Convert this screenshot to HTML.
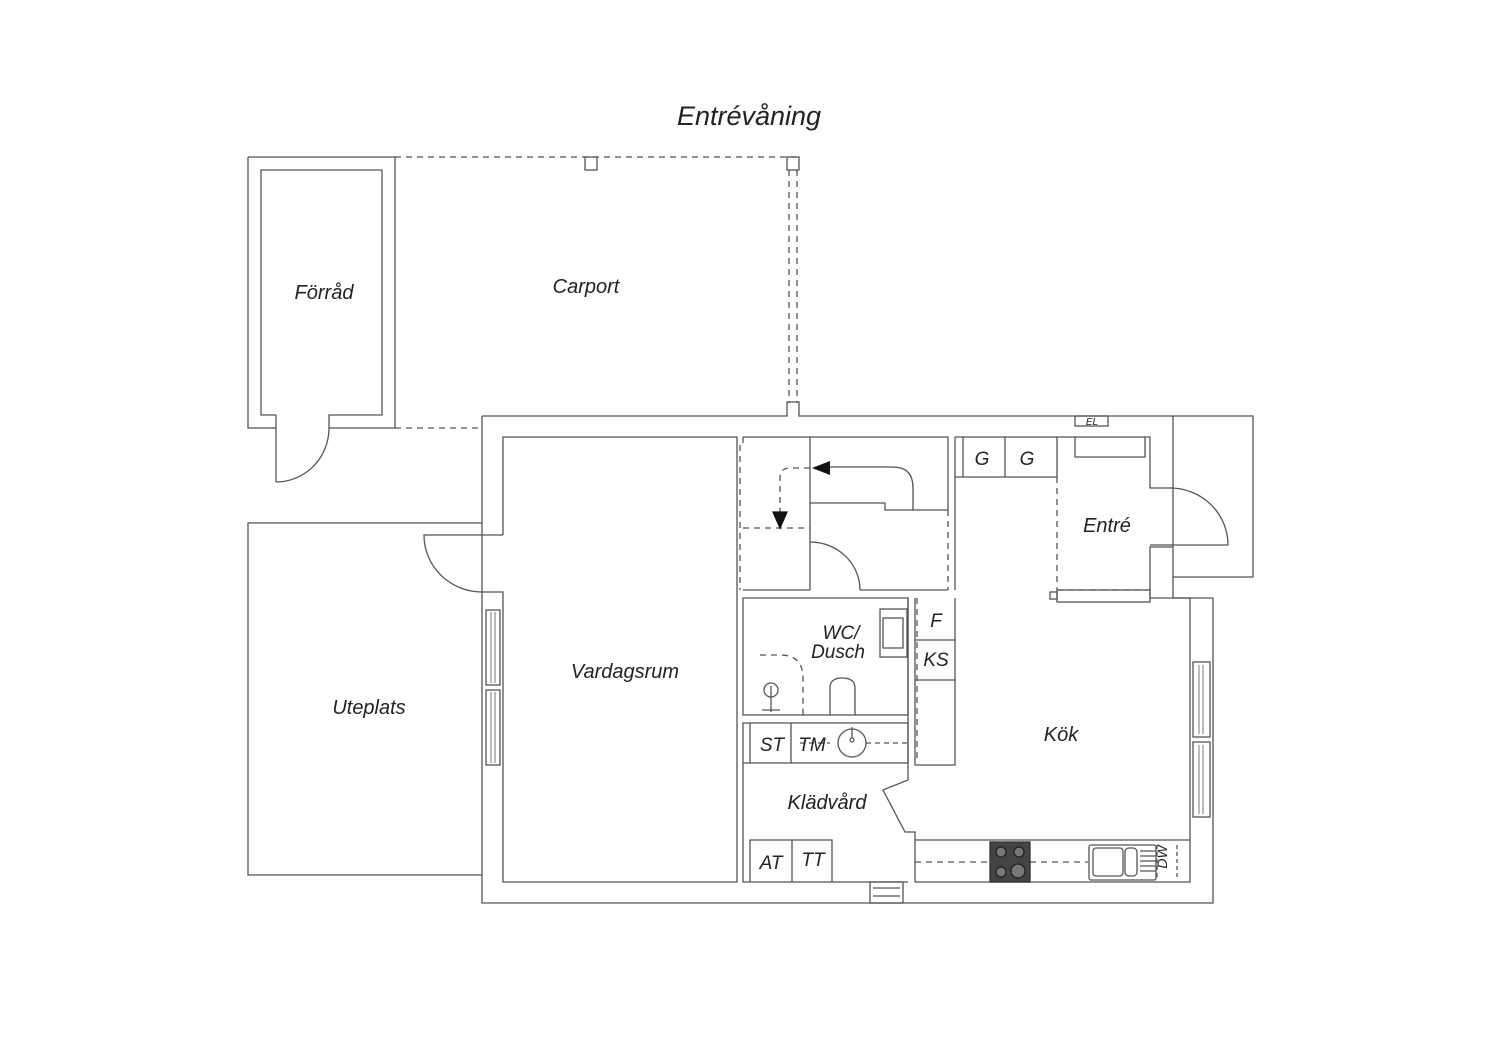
<!DOCTYPE html>
<html><head><meta charset="utf-8"><style>
html,body{margin:0;padding:0;background:#fff;}
svg{display:block}
text{font-family:"Liberation Sans",sans-serif;font-style:italic;fill:#222;}
</style></head><body>
<svg width="1500" height="1060" viewBox="0 0 1500 1060" xmlns="http://www.w3.org/2000/svg">
<g fill="none" stroke="#555" stroke-width="1.3">
<!-- Forrad -->
<path d="M248,157 H395 V428 H329 M276,428 H248 V157"/>
<path d="M276,415 H261 V170 H382 V415 H329 V428"/>
<path d="M276,415 V482"/>
<path d="M276,482 A53,54 0 0 0 329,428"/>
<!-- Carport dashed -->
<g stroke-dasharray="6,5">
<path d="M395,157 H799"/>
<path d="M395,428 H482"/>
<path d="M789,170 V403 M797,170 V403"/>
</g>
<rect x="585" y="157" width="12" height="13"/>
<rect x="787" y="157" width="12" height="13"/>
<!-- Uteplats -->
<path d="M482,523 H248 V875 H482"/>
<!-- House outer -->
<path d="M482,416 H787 V402 H799 V416 H1253 V577 H1173 V416"/>
<path d="M1173,577 V598 H1213 V903 H482 V416"/>
<!-- Vardagsrum inner -->
<path d="M503,535 V437 H737 V882 H503 V592 H482"/>
<path d="M482,535 H503"/>
<path d="M482,535 H424 A58,57 0 0 0 482,592"/>
<!-- windows left -->
<rect x="486" y="610" width="14" height="75"/>
<rect x="486" y="690" width="14" height="75"/>
<path d="M491,612 V683 M495,612 V683 M491,692 V763 M495,692 V763" stroke-width="0.8"/>
<!-- stair / hall block -->
<path d="M743,437 H948 V510 M743,437 V443"/>
<path d="M810,437 V590 M810,590 H743"/>
<path d="M810,503 H885 V510 H948"/>
<path d="M913,510 V488 Q913,467 893,467 H830" />
<path d="M860,590 H948 M955,437 V590"/>
<path d="M810,542 A50,48 0 0 1 860,590"/>
<g stroke-dasharray="6,5">
<path d="M740,445 V590 M948,510 V590"/>
<path d="M743,528 H810 M810,468 H790 Q780,468 780,478 V520"/>
<path d="M917,598 V760"/>
</g>
<polygon points="812,468 830,461 830,475" fill="#111" stroke="none"/>
<polygon points="773,512 780,528 787,512" fill="#111" stroke="#111"/>
<!-- WC -->
<path d="M743,598 H908 V715 H743 Z"/>
<path d="M743,723 H908 V763 H743 Z"/>
<path d="M750,723 V763 M791,723 V763"/>
<path d="M908,598 V780 M915,598 V765 H955 V598"/>
<path d="M915,640 H955 M915,680 H955"/>
<rect x="880" y="609" width="27" height="48"/>
<rect x="883" y="618" width="20" height="30"/>
<path d="M760,655 H780 Q803,655 803,678 V715" stroke-dasharray="6,5"/>
<circle cx="771" cy="690" r="7"/>
<path d="M771,686 V712 M762,710 H780" />
<path d="M830,715 V688 Q830,678 842,678 Q855,678 855,688 V715"/>
<circle cx="852" cy="743" r="14"/>
<circle cx="852" cy="740" r="2"/>
<path d="M852,727 V738"/>
<path d="M800,743 H830 M866,743 H908" stroke-dasharray="5,4"/>
<!-- Kladvard -->
<path d="M743,763 V882 H908"/>
<path d="M750,882 V840 H832 V882 M792,840 V882"/>
<path d="M908,780 L883,790 L905,832 H915 V882"/>
<rect x="870" y="882" width="33" height="21"/>
<path d="M873,888 H900 M873,896 H900"/>
<!-- Kitchen -->
<path d="M955,437 H1150 V488 H1173 M1173,547 H1150 V598 H1190 V882 H915"/>
<path d="M955,477 H1057 V437 M1005,437 V477 M963,437 V477"/>
<path d="M1075,437 V457 H1145 V437"/>
<rect x="1075" y="416" width="33" height="10"/>
<path d="M1150,545 H1228 A58,57 0 0 0 1170,488"/>
<path d="M1057,477 V590 M1057,590 H1150" stroke-dasharray="6,5"/>
<rect x="1057" y="590" width="93" height="12"/>
<rect x="1050" y="592" width="7" height="7"/>
<path d="M915,840 H1190"/>
<path d="M915,862 H990 M1030,862 H1088" stroke-dasharray="6,5"/>
<rect x="1193" y="662" width="17" height="75"/>
<rect x="1193" y="742" width="17" height="75"/>
<path d="M1199,665 V734 M1203,665 V734 M1199,745 V814 M1203,745 V814" stroke-width="0.8"/>
<rect x="990" y="842" width="40" height="40" fill="#444" stroke="#333"/>
<g fill="#777" stroke="#222">
<circle cx="1001" cy="852" r="5"/><circle cx="1019" cy="852" r="5"/>
<circle cx="1001" cy="872" r="5"/><circle cx="1018" cy="871" r="7"/>
</g>
<rect x="1089" y="845" width="67" height="35" rx="2"/>
<rect x="1093" y="848" width="30" height="28" rx="3"/>
<rect x="1125" y="848" width="12" height="28" rx="4"/>
<path d="M1140,851 H1156 M1140,856 H1156 M1140,861 H1156 M1140,866 H1156 M1140,871 H1156"/>
<path d="M1157,845 V880 M1177,845 V880" stroke-dasharray="4,3"/>
</g>
<text x="749" y="125" font-size="27" text-anchor="middle">Entrévåning</text>
<text x="324" y="299" font-size="20" text-anchor="middle">Förråd</text>
<text x="586" y="293" font-size="20" text-anchor="middle">Carport</text>
<text x="369" y="714" font-size="20" text-anchor="middle">Uteplats</text>
<text x="625" y="678" font-size="20" text-anchor="middle">Vardagsrum</text>
<text x="841" y="639" font-size="19" text-anchor="middle">WC/</text>
<text x="838" y="658" font-size="19" text-anchor="middle">Dusch</text>
<text x="1107" y="532" font-size="20" text-anchor="middle">Entré</text>
<text x="1061" y="741" font-size="20" text-anchor="middle">Kök</text>
<text x="827" y="809" font-size="20" text-anchor="middle">Klädvård</text>
<text x="982" y="465" font-size="19" text-anchor="middle">G</text>
<text x="1027" y="465" font-size="19" text-anchor="middle">G</text>
<text x="936" y="627" font-size="19" text-anchor="middle">F</text>
<text x="936" y="666" font-size="19" text-anchor="middle">KS</text>
<text x="772" y="751" font-size="19" text-anchor="middle">ST</text>
<text x="812" y="751" font-size="19" text-anchor="middle">TM</text>
<text x="771" y="869" font-size="19" text-anchor="middle">AT</text>
<text x="813" y="866" font-size="19" text-anchor="middle">TT</text>
<text x="1092" y="425" font-size="10" text-anchor="middle">EL</text>
<text x="1172" y="862" font-size="14" text-anchor="middle" transform="rotate(-90 1167 862)">DW</text>
</svg>
</body></html>
